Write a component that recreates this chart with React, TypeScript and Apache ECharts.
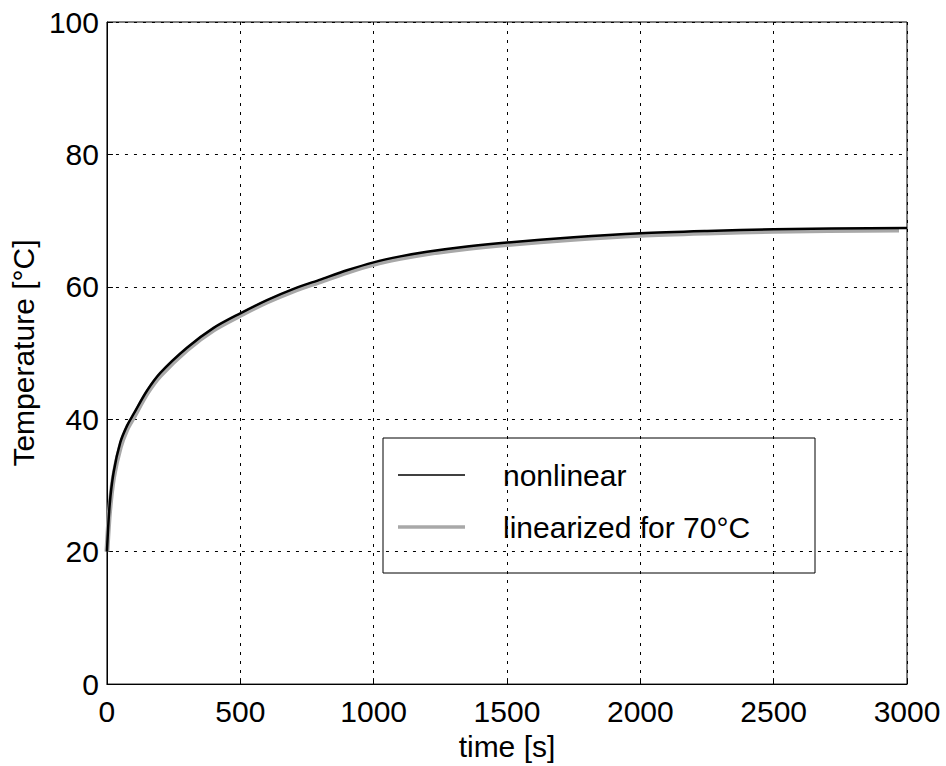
import React, { useEffect, useRef } from "react";
import * as echarts from "echarts";

const timeS = [0, 10, 25, 50, 75, 100, 150, 200, 300, 400, 500, 600, 700, 800, 900, 1000, 1100, 1200, 1350, 1500, 1750, 2000, 2250, 2500, 3000];
const nonlinear = [20, 27, 32, 36.5, 39, 40.8, 44.3, 47, 50.8, 53.8, 56, 58, 59.7, 61.1, 62.5, 63.7, 64.6, 65.3, 66.1, 66.7, 67.5, 68.1, 68.45, 68.7, 68.9];
const linTime = [0, 10, 25, 50, 75, 100, 150, 200, 300, 400, 500, 600, 700, 800, 900, 1000, 1100, 1200, 1350, 1500, 1750, 2000, 2250, 2500, 2970];
const linearized = [20, 26.2, 31.3, 35.8, 38.5, 40.3, 43.9, 46.6, 50.5, 53.5, 55.7, 57.7, 59.4, 60.8, 62.2, 63.4, 64.3, 65.0, 65.8, 66.4, 67.2, 67.8, 68.15, 68.4, 68.6];
const seriesNames = ["nonlinear", "linearized for 70°C"];

const FONT = "'Liberation Sans', Arial, Helvetica, sans-serif";

export default function App() {
  const ref = useRef<HTMLDivElement>(null);
  useEffect(() => {
    if (!ref.current) return;
    const chart = echarts.init(ref.current, undefined, { renderer: "svg" });
    chart.setOption({
      animation: false,
      backgroundColor: "#fff",
      textStyle: { fontFamily: FONT },
      grid: {
        left: 103,
        top: 22,
        right: 39,
        bottom: 80,
        show: true,
        borderColor: "#000",
        borderWidth: 1,
        backgroundColor: "transparent",
      },
      xAxis: {
        type: "value",
        min: 0,
        max: 3000,
        interval: 500,
        name: "time [s]",
        nameLocation: "middle",
        nameGap: 35,
        nameTextStyle: { fontFamily: FONT, fontSize: 30, color: "#000" },
        axisLine: { show: true, lineStyle: { color: "#000", width: 1 } },
        axisTick: { show: true, inside: true, length: 6, lineStyle: { color: "#000" } },
        axisLabel: { fontFamily: FONT, fontSize: 30, color: "#000", margin: 12, formatter: (v: number) => String(v) },
        splitLine: { show: true, lineStyle: { color: "#000", width: 1, type: [3, 6] } },
      },
      yAxis: {
        type: "value",
        min: 0,
        max: 100,
        interval: 20,
        name: "Temperature [°C]",
        nameLocation: "middle",
        nameGap: 62,
        nameTextStyle: { fontFamily: FONT, fontSize: 30, color: "#000" },
        axisLine: { show: true, lineStyle: { color: "#000", width: 1 } },
        axisTick: { show: true, inside: true, length: 6, lineStyle: { color: "#000" } },
        axisLabel: { fontFamily: FONT, fontSize: 30, color: "#000", margin: 8, formatter: (v: number) => String(v) },
        splitLine: { show: true, lineStyle: { color: "#000", width: 1, type: [3, 6] } },
      },
      graphic: [
        {
          type: "group",
          z: 100,
          children: [
            {
              type: "rect",
              shape: { x: 383, y: 438, width: 432, height: 135 },
              style: { fill: "#fff", stroke: "#000", lineWidth: 1 },
            },
            {
              type: "line",
              shape: { x1: 398, y1: 475, x2: 465, y2: 475 },
              style: { stroke: "#000", lineWidth: 1.5 },
            },
            {
              type: "line",
              shape: { x1: 398, y1: 527, x2: 465, y2: 527 },
              style: { stroke: "#a8a8a8", lineWidth: 3.5 },
            },
            {
              type: "text",
              x: 503,
              y: 475,
              style: { text: seriesNames[0], font: `30px ${FONT}`, fill: "#000", verticalAlign: "middle", align: "left" },
            },
            {
              type: "text",
              x: 503,
              y: 527,
              style: { text: seriesNames[1], font: `30px ${FONT}`, fill: "#000", verticalAlign: "middle", align: "left" },
            },
          ],
        },
      ],
      series: [
        {
          name: seriesNames[1],
          type: "line",
          data: linTime.map((t, i) => [t, linearized[i]]),
          symbol: "none",
          smooth: 0.3,
          lineStyle: { color: "#a8a8a8", width: 5 },
          itemStyle: { color: "#a8a8a8" },
          z: 2,
        },
        {
          name: seriesNames[0],
          type: "line",
          data: timeS.map((t, i) => [t, nonlinear[i]]),
          symbol: "none",
          smooth: 0.3,
          lineStyle: { color: "#000", width: 2.5 },
          itemStyle: { color: "#000" },
          z: 3,
        },
      ],
    });
    return () => chart.dispose();
  }, []);
  return (
    <div
      ref={ref}
      style={{ position: "fixed", left: 0, top: 0, width: 946, height: 766, background: "#fff" }}
    />
  );
}
